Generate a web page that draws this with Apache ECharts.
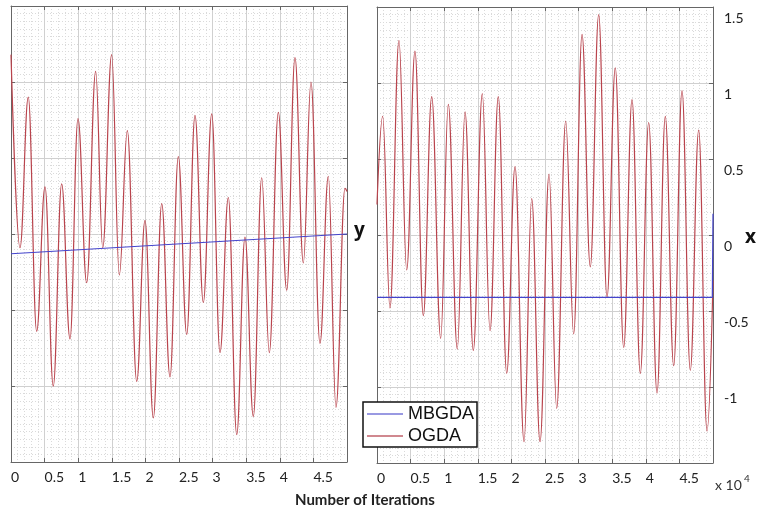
<!DOCTYPE html>
<html><head><meta charset="utf-8">
<script src="https://cdn.jsdelivr.net/npm/echarts/dist/echarts.min.js"></script>
<style>html,body{margin:0;padding:0;background:#fff}#c{width:758px;height:513px}</style>
</head><body><div id="c"></div>
<script>
// iterations in units of 10^4
const leftIter = [0, 0.134, 0.257, 0.382, 0.506, 0.629, 0.754, 0.878, 0.997, 1.126, 1.260, 1.365, 1.498, 1.612, 1.731, 1.871, 1.994, 2.118, 2.243, 2.366, 2.490, 2.615, 2.738, 2.862, 2.987, 3.110, 3.234, 3.359, 3.482, 3.606, 3.731, 3.844, 3.978, 4.103, 4.226, 4.350, 4.464, 4.598, 4.722, 4.836, 4.970, 5.0];
const leftOGDA = [1.18, -0.09, 0.90, -0.64, 0.31, -1.00, 0.33, -0.69, 0.76, -0.32, 1.07, -0.09, 1.18, -0.27, 0.68, -0.97, 0.09, -1.21, 0.20, -0.94, 0.51, -0.66, 0.78, -0.45, 0.79, -0.78, 0.24, -1.32, -0.02, -1.20, 0.37, -0.78, 0.80, -0.37, 1.16, -0.19, 1.00, -0.72, 0.38, -1.14, 0.30, 0.28];
const leftMBGDAIter = [0, 5];
const leftMBGDA = [-0.13, 0.0];

const rightIter = [0, 0.085, 0.193, 0.327, 0.442, 0.565, 0.689, 0.814, 0.948, 1.061, 1.195, 1.310, 1.433, 1.567, 1.682, 1.805, 1.930, 2.054, 2.188, 2.302, 2.426, 2.560, 2.674, 2.808, 2.927, 3.051, 3.174, 3.299, 3.423, 3.546, 3.671, 3.795, 3.918, 4.043, 4.167, 4.290, 4.415, 4.539, 4.662, 4.787, 4.911, 5.0];
const rightOGDA = [0.2, 0.78, -0.48, 1.28, -0.23, 1.21, -0.53, 0.91, -0.68, 0.86, -0.75, 0.81, -0.76, 0.93, -0.63, 0.91, -0.91, 0.45, -1.36, 0.24, -1.36, 0.40, -1.14, 0.75, -0.65, 1.32, -0.21, 1.45, -0.41, 1.10, -0.74, 0.89, -0.91, 0.74, -1.04, 0.78, -0.86, 0.95, -0.89, 0.69, -1.29, -0.3];
const rightMBGDAIter = [0, 4.99, 5.0];
const rightMBGDA = [-0.41, -0.41, 0.14];

const xTickLabels = ['0', '0.5', '1', '1.5', '2', '2.5', '3', '3.5', '4', '4.5'];
const yTickLabels = ['', '-1', '-0.5', '0', '0.5', '1', '1.5'];
const legendNames = ['MBGDA', 'OGDA'];

const pairs = (xs, ys) => xs.map((x, i) => [x, ys[i]]);
const BLUE = '#4444cc', RED = '#b9444d', AXIS = '#666';

function xAxes(gi) {
  return [{
    gridIndex: gi, type: 'value', min: 0, max: 5, interval: 0.5, position: 'bottom',
    axisLine: { show: true, onZero: false, lineStyle: { color: AXIS, width: 1 } },
    axisTick: { show: true, inside: true, length: 4, lineStyle: { color: AXIS } },
    axisLabel: {
      show: true, align: 'left', margin: 8, color: '#222', fontFamily: 'Lato', fontSize: 14,
      formatter: v => { const i = Math.round(v * 2); return i < xTickLabels.length ? xTickLabels[i] : ''; }
    },
    splitLine: { show: true, lineStyle: { color: '#d0d0d0', width: 1 } },
    minorTick: { show: false, splitNumber: 5 },
    minorSplitLine: { show: true, lineStyle: { color: '#dadada', width: 1, type: [1, 2] } }
  }, {
    gridIndex: gi, type: 'value', min: 0, max: 5, interval: 0.5, position: 'top',
    axisLine: { show: true, onZero: false, lineStyle: { color: AXIS, width: 1 } },
    axisTick: { show: true, inside: true, length: 4, lineStyle: { color: AXIS } },
    axisLabel: { show: false }, splitLine: { show: false }
  }];
}
function yAxes(gi, labels) {
  return [{
    gridIndex: gi, type: 'value', min: -1.5, max: 1.5, interval: 0.5, position: 'left',
    axisLine: { show: true, onZero: false, lineStyle: { color: AXIS, width: 1 } },
    axisTick: { show: true, inside: true, length: 4, lineStyle: { color: AXIS } },
    axisLabel: { show: false },
    splitLine: { show: true, lineStyle: { color: '#d0d0d0', width: 1 } },
    minorTick: { show: false, splitNumber: 10 },
    minorSplitLine: { show: true, lineStyle: { color: '#dadada', width: 1, type: [1, 2] } }
  }, {
    gridIndex: gi, type: 'value', min: -1.5, max: 1.5, interval: 0.5, position: 'right',
    axisLine: { show: true, onZero: false, lineStyle: { color: AXIS, width: 1 } },
    axisTick: { show: true, inside: true, length: 4, lineStyle: { color: AXIS } },
    axisLabel: {
      show: labels, margin: 11, align: 'left', verticalAlign: 'top', lineHeight: 22,
      color: '#222', fontFamily: 'Lato', fontSize: 14,
      formatter: v => yTickLabels[Math.round((v + 1.5) * 2)]
    },
    splitLine: { show: false }
  }];
}

const chart = echarts.init(document.getElementById('c'), null, { renderer: 'canvas' });
chart.setOption({
  animation: false,
  backgroundColor: '#fff',
  grid: [
    { left: 11, top: 6, width: 336, height: 456 },
    { left: 377, top: 7, width: 336, height: 456 }
  ],
  xAxis: [...xAxes(0), ...xAxes(1)],
  yAxis: [...yAxes(0, false), ...yAxes(1, true)],
  legend: {
    data: legendNames, orient: 'vertical', left: 363, top: 402,
    backgroundColor: '#fff', borderColor: '#111', borderWidth: 1.5,
    padding: [1, 3, 0, 4], itemGap: 0, itemWidth: 36, itemHeight: 1.4,
    icon: 'path://M0,0 L36,0 L36,1.4 L0,1.4 Z',
    textStyle: { fontFamily: 'Liberation Sans', fontSize: 18, color: '#111', lineHeight: 22 },
    z: 10
  },
  series: [
    { name: legendNames[0], type: 'line', xAxisIndex: 0, yAxisIndex: 0, data: pairs(leftMBGDAIter, leftMBGDA),
      showSymbol: false, symbol: 'none', lineStyle: { color: BLUE, width: 1.2 }, itemStyle: { color: '#7777d8' }, z: 3 },
    { name: legendNames[1], type: 'line', xAxisIndex: 0, yAxisIndex: 0, data: pairs(leftIter, leftOGDA),
      showSymbol: false, symbol: 'none', smooth: 0.4, smoothMonotone: 'x',
      lineStyle: { color: RED, width: 1.2 }, itemStyle: { color: '#c0606a' }, z: 2 },
    { name: legendNames[0], type: 'line', xAxisIndex: 2, yAxisIndex: 2, data: pairs(rightMBGDAIter, rightMBGDA),
      showSymbol: false, symbol: 'none', lineStyle: { color: BLUE, width: 1.2 }, itemStyle: { color: '#7777d8' }, z: 3 },
    { name: legendNames[1], type: 'line', xAxisIndex: 2, yAxisIndex: 2, data: pairs(rightIter, rightOGDA),
      showSymbol: false, symbol: 'none', smooth: 0.4, smoothMonotone: 'x',
      lineStyle: { color: RED, width: 1.2 }, itemStyle: { color: '#c0606a' }, z: 2 }
  ],
  graphic: [
    { type: 'text', left: 354, top: 221, style: { text: 'y', font: 'bold 19px "Open Sans"', fill: '#111' } },
    { type: 'text', left: 745, top: 228, style: { text: 'x', font: 'bold 19px "Open Sans"', fill: '#111' } },
    { type: 'text', left: 715, top: 478, style: { text: 'x 10', font: '14px Lato', fill: '#333' } },
    { type: 'text', left: 744, top: 474, style: { text: '4', font: '10px Lato', fill: '#333' } },
    { type: 'text', left: 295, top: 493, style: { text: 'Number of Iterations', font: 'bold 15px Lato', fill: '#222' } }
  ]
});
</script></body></html>
